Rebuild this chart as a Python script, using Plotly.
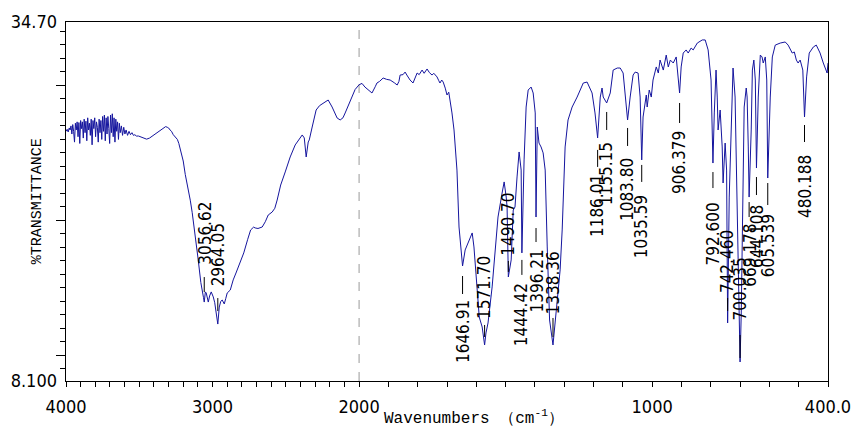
import numpy as np
import plotly.graph_objects as go

# ---------------- data ----------------
wavenumber = [
    4000, 3992, 3985, 3978, 3972, 3966, 3960, 3954, 3948, 3942, 3936, 3930, 3924, 3918, 3912, 3906,
    3900, 3894, 3888, 3882, 3876, 3870, 3864, 3858, 3852, 3846, 3840, 3834, 3828, 3822, 3816, 3810,
    3804, 3798, 3792, 3786, 3780, 3774, 3768, 3762, 3756, 3750, 3744, 3738, 3732, 3726, 3720, 3714,
    3708, 3702, 3696, 3690, 3684, 3678, 3672, 3666, 3660, 3654, 3648, 3642, 3636, 3630, 3622, 3614,
    3606, 3598, 3590, 3580, 3570, 3560, 3550, 3540, 3530, 3520,
    3505, 3490, 3470, 3450, 3430, 3400, 3370, 3340, 3320, 3309, 3300, 3290, 3280, 3268, 3255, 3240,
    3230, 3220, 3200, 3186, 3166, 3152, 3139, 3118, 3098, 3080, 3070, 3062, 3056.62, 3049, 3043, 3036,
    3029, 3020, 3009, 2995, 2985, 2975, 2964.05, 2954, 2944, 2934, 2920, 2910, 2900, 2879, 2859, 2840,
    2825, 2800, 2787, 2760, 2740, 2720, 2709, 2690, 2661, 2640, 2620, 2593, 2575, 2559, 2535, 2504,
    2470, 2436, 2410, 2388, 2374, 2361, 2347, 2340, 2320, 2293, 2270, 2245, 2211, 2184, 2150, 2129,
    2110, 2095, 2061, 2027, 2000, 1990, 1980, 1966, 1956, 1945, 1939, 1930, 1918, 1906, 1894, 1880,
    1870, 1864, 1860, 1850, 1843, 1835, 1826, 1816, 1808, 1802, 1795, 1785, 1778, 1768, 1760, 1751,
    1745, 1734, 1728, 1724, 1718, 1713, 1706, 1700, 1694, 1689, 1683, 1676, 1670, 1666, 1659, 1652,
    1646.91, 1638, 1628, 1614, 1608, 1597, 1590, 1580, 1571.70, 1567, 1560, 1546, 1536, 1526, 1512, 1505,
    1498, 1495, 1490.70, 1481, 1474, 1468, 1461, 1454, 1447, 1444.42, 1437, 1430, 1423, 1413, 1406, 1399,
    1396.21, 1392, 1386, 1379, 1372, 1365, 1358, 1350, 1338.36, 1328, 1314, 1307, 1297, 1287, 1273, 1256,
    1235, 1222, 1205, 1195, 1186.01, 1177, 1171, 1167, 1155.15, 1143, 1133, 1119, 1109, 1099, 1092, 1083.80,
    1075, 1065, 1058, 1048, 1041, 1035.59, 1031, 1020, 1017, 1010, 1003, 997, 986, 979, 973, 962,
    952, 945, 938, 928, 918, 906.379, 901, 894, 884, 877, 867, 860, 846, 829, 819, 809,
    799, 795, 792.600, 788, 782, 778, 775, 768, 761, 758, 751, 746, 742.460, 737, 727, 724,
    717, 710, 703, 700.035, 696, 689, 686, 679, 676, 672, 669.178, 662, 658, 653, 648, 644.108,
    638, 631, 625, 621, 614, 609, 605.539, 597, 590, 580, 563, 546, 536, 522, 515, 508,
    502, 495, 486, 480.188, 473, 464, 450, 440, 427, 416, 410, 403, 400,
]

transmittance = [
    26.60, 26.75, 26.55, 26.85, 26.70, 27.00, 26.40, 27.10, 26.60, 25.80, 27.20, 26.70, 27.30, 26.20, 27.25, 25.70,
    27.40, 26.80, 27.30, 26.10, 27.50, 26.50, 27.35, 25.90, 27.60, 26.70, 27.20, 26.30, 27.50, 25.60, 27.40, 26.80,
    27.60, 26.20, 27.30, 26.90, 25.80, 27.50, 26.50, 27.40, 26.00, 27.70, 26.60, 27.80, 25.90, 27.60, 26.40, 27.70,
    26.80, 25.70, 27.80, 26.50, 27.90, 26.20, 27.60, 25.80, 27.50, 26.60, 27.30, 26.00, 27.20, 26.50, 27.00, 26.30,
    26.90, 26.40, 26.70, 26.30, 26.60, 26.35, 26.50, 26.30, 26.35, 26.25,
    26.25, 26.20, 26.10, 26.02, 26.10, 26.35, 26.60, 26.80, 26.95, 26.90, 26.85, 26.70, 26.60, 26.35, 26.20, 26.00,
    25.70, 25.20, 24.40, 23.40, 22.40, 21.50, 20.60, 19.00, 17.10, 15.40, 14.60, 14.30, 13.95, 14.70, 14.62, 14.20,
    13.95, 14.40, 14.70, 14.33, 13.90, 13.14, 12.32, 13.58, 14.00, 14.10, 13.81, 14.20, 14.62, 14.84, 15.59, 16.10,
    16.55, 17.20, 17.59, 18.60, 19.29, 19.50, 19.44, 19.40, 19.51, 19.90, 20.40, 20.62, 20.90, 21.51, 22.62, 23.59,
    24.70, 25.59, 26.00, 26.33, 26.11, 24.70, 25.81, 25.96, 26.92, 28.18, 28.50, 28.70, 28.92, 28.40, 27.59, 27.44,
    27.60, 27.96, 28.77, 29.70, 30.05, 30.15, 29.88, 29.60, 29.44, 29.90, 30.18, 30.30, 30.55, 30.45, 30.40, 30.20,
    30.03, 30.30, 30.77, 30.80, 30.99, 30.70, 30.40, 30.18, 30.60, 30.92, 30.80, 31.14, 30.90, 31.22, 30.95, 30.77,
    30.90, 30.63, 30.35, 30.18, 30.40, 30.25, 29.80, 29.29, 29.50, 28.92, 27.96, 26.70, 25.00, 23.73, 19.51, 17.40,
    16.62, 17.81, 18.40, 19.07, 18.03, 15.07, 12.84, 12.10, 10.77, 11.66, 12.40, 15.07, 18.03, 20.25, 22.03, 22.85,
    21.73, 21.00, 15.81, 17.07, 20.77, 20.99, 23.22, 25.07, 23.73, 17.59, 24.48, 28.40, 29.66, 29.88, 29.44, 27.96,
    20.25, 26.92, 25.73, 25.44, 25.00, 23.73, 18.03, 12.62, 10.77, 13.20, 16.33, 19.29, 25.44, 27.44, 28.40, 29.14,
    30.18, 30.25, 29.44, 27.96, 26.11, 29.14, 29.81, 29.14, 28.70, 29.44, 31.14, 31.29, 31.29, 30.92, 29.14, 27.44,
    29.14, 30.77, 30.99, 30.92, 29.14, 24.48, 27.66, 29.29, 28.40, 29.66, 29.14, 30.40, 31.37, 30.92, 31.88, 31.14,
    32.25, 31.37, 31.88, 31.66, 32.11, 29.44, 31.37, 32.40, 32.63, 32.40, 32.77, 32.63, 33.14, 33.37, 33.37, 32.63,
    30.40, 26.92, 24.25, 27.96, 31.14, 29.14, 26.70, 28.18, 25.44, 22.77, 25.73, 23.73, 12.40, 21.73, 29.14, 31.29,
    29.14, 21.73, 13.14, 9.51, 13.14, 21.73, 28.40, 29.81, 29.14, 25.44, 21.73, 26.70, 31.14, 31.88, 30.40, 23.88,
    29.14, 32.25, 32.11, 31.66, 32.11, 30.40, 23.14, 29.14, 32.11, 32.99, 33.14, 33.22, 32.99, 32.40, 32.48, 31.88,
    31.66, 31.88, 31.14, 27.66, 30.63, 32.40, 32.85, 32.99, 32.40, 31.66, 31.37, 30.92, 31.66,
]

peak_wavenumbers = [3056.62, 2964.05, 1646.91, 1571.70, 1490.70, 1444.42, 1396.21, 1338.36, 1186.01, 1155.15,
                    1083.80, 1035.59, 906.379, 792.600, 742.460, 700.035, 669.178, 644.108, 605.539, 480.188]
peak_labels = ["3056.62", "2964.05", "1646.91", "1571.70", "1490.70", "1444.42", "1396.21", "1338.36", "1186.01", "1155.15",
               "1083.80", "1035.59", "906.379", "792.600", "742.460", "700.035", "669.178", "644.108", "605.539", "480.188"]

x_tick_values = [4000, 3000, 2000, 1000, 400]
x_tick_labels = ["4000", "3000", "2000", "1000", "400.0"]
y_limits = [8.1, 34.7]
y_tick_labels = ["8.100", "34.70"]

# ---------------- layout helpers (pixel offsets of peak markers: line start, line end, text edge) ----
label_offsets = [(-10, -25, -35), (-13, -26, -36), (10, 28, 32), (-8, -20, -24), (-5, -16, -19),
                 (7, 22, 28), (11, 25, 31), (-8, -27, -29), (12, 29, 34), (9, 27, 37),
                 (8, 26, 36), (5, 22, 33), (10, 30, 36), (9, 25, 37), (-12, -25, -28),
                 (-4, -27, -39), (5, 20, 25), (9, 27, 35), (5, 27, 34), (8, 25, 36)]


def u(w):
    """Instrument-style axis: the 4000-2000 region is drawn at half scale."""
    w = np.asarray(w, dtype=float)
    return np.where(w > 2000, 2000 + (w - 2000) / 2.0, w)


NARROW = "Liberation Sans Narrow, Arial Narrow, DejaVu Sans Condensed, sans-serif"
MONO = "Liberation Mono, DejaVu Sans Mono, monospace"

fig = go.Figure()
fig.add_trace(go.Scatter(x=u(wavenumber), y=transmittance, mode="lines",
                         line=dict(color="#15159e", width=1), showlegend=False, hoverinfo="skip"))
fig.add_trace(go.Scatter(x=[None], y=[None], yaxis="y2", showlegend=False, hoverinfo="skip"))

wn_sorted = np.array(wavenumber)[::-1]
t_sorted = np.array(transmittance)[::-1]

shapes = []
annotations = []
for w, lab, (l0, l1, toff) in zip(peak_wavenumbers, peak_labels, label_offsets):
    t = float(np.interp(w, wn_sorted, t_sorted))
    xu = float(u(w))
    shapes.append(dict(type="line", xref="x", yref="y", ysizemode="pixel", yanchor=t,
                       x0=xu, x1=xu, y0=-l0, y1=-l1, line=dict(color="black", width=1)))
    annotations.append(dict(x=xu, y=t, xref="x", yref="y", text=lab, showarrow=False, textangle=-90,
                            xanchor="center", yanchor="top" if toff > 0 else "bottom",
                            yshift=-toff, font=dict(family=NARROW, size=17, color="black")))

# dashed divider at 2000
shapes.append(dict(type="line", xref="x", yref="paper", x0=2000, x1=2000, y0=0, y1=1,
                   line=dict(color="#9a9a9a", width=1, dash="dash"), layer="below"))

annotations.append(dict(text="%TRANSMITTANCE", xref="paper", yref="paper", x=-0.037, y=0.5,
                        textangle=-90, showarrow=False, xanchor="center", yanchor="middle",
                        font=dict(family=MONO, size=15, color="black")))
annotations.append(dict(text="Wavenumbers （cm<sup>-1</sup>）", xref="paper", yref="paper", x=0.536, y=-0.103,
                        showarrow=False, xanchor="center", yanchor="middle",
                        font=dict(family=MONO, size=16, color="black")))

all_ticks = list(range(400, 4001, 100))
tick_text = [x_tick_labels[x_tick_values.index(w)] if w in x_tick_values else "" for w in all_ticks]

fig.update_layout(
    width=854, height=436,
    margin=dict(l=66, r=26, t=22, b=55, autoexpand=False),
    paper_bgcolor="white", plot_bgcolor="white",
    template="none",
    shapes=shapes, annotations=annotations,
    xaxis=dict(range=[float(u(4000)), float(u(400))], tickmode="array",
               tickvals=[float(v) for v in u(all_ticks)], ticktext=tick_text,
               ticks="outside", ticklen=5, tickcolor="black", tickwidth=1,
               showline=True, linecolor="black", linewidth=1, mirror=True,
               showgrid=False, zeroline=False, ticklabelstandoff=4, automargin=False,
               tickfont=dict(family=NARROW, size=18, color="black")),
    yaxis=dict(range=y_limits, tickmode="array", tickvals=[10, 20, 30], ticks="outside", ticklen=9,
               tickcolor="black", showticklabels=False, automargin=False,
               minor=dict(tickmode="array", tickvals=list(range(9, 35)), ticks="outside",
                          ticklen=5, tickcolor="black"),
               showline=True, linecolor="black", linewidth=1, mirror=True,
               showgrid=False, zeroline=False),
    yaxis2=dict(range=y_limits, overlaying="y", side="left", anchor="x", tickmode="array",
                tickvals=y_limits, ticktext=y_tick_labels, ticks="", showline=False,
                showgrid=False, zeroline=False, ticklabelstandoff=8, automargin=False,
                tickfont=dict(family=NARROW, size=18, color="black")),
)

# the page's default 8px body margin would shift the figure; remove it
fig.write_html("out.html", config={"displayModeBar": False},
               post_script="document.body.style.margin='0';")
